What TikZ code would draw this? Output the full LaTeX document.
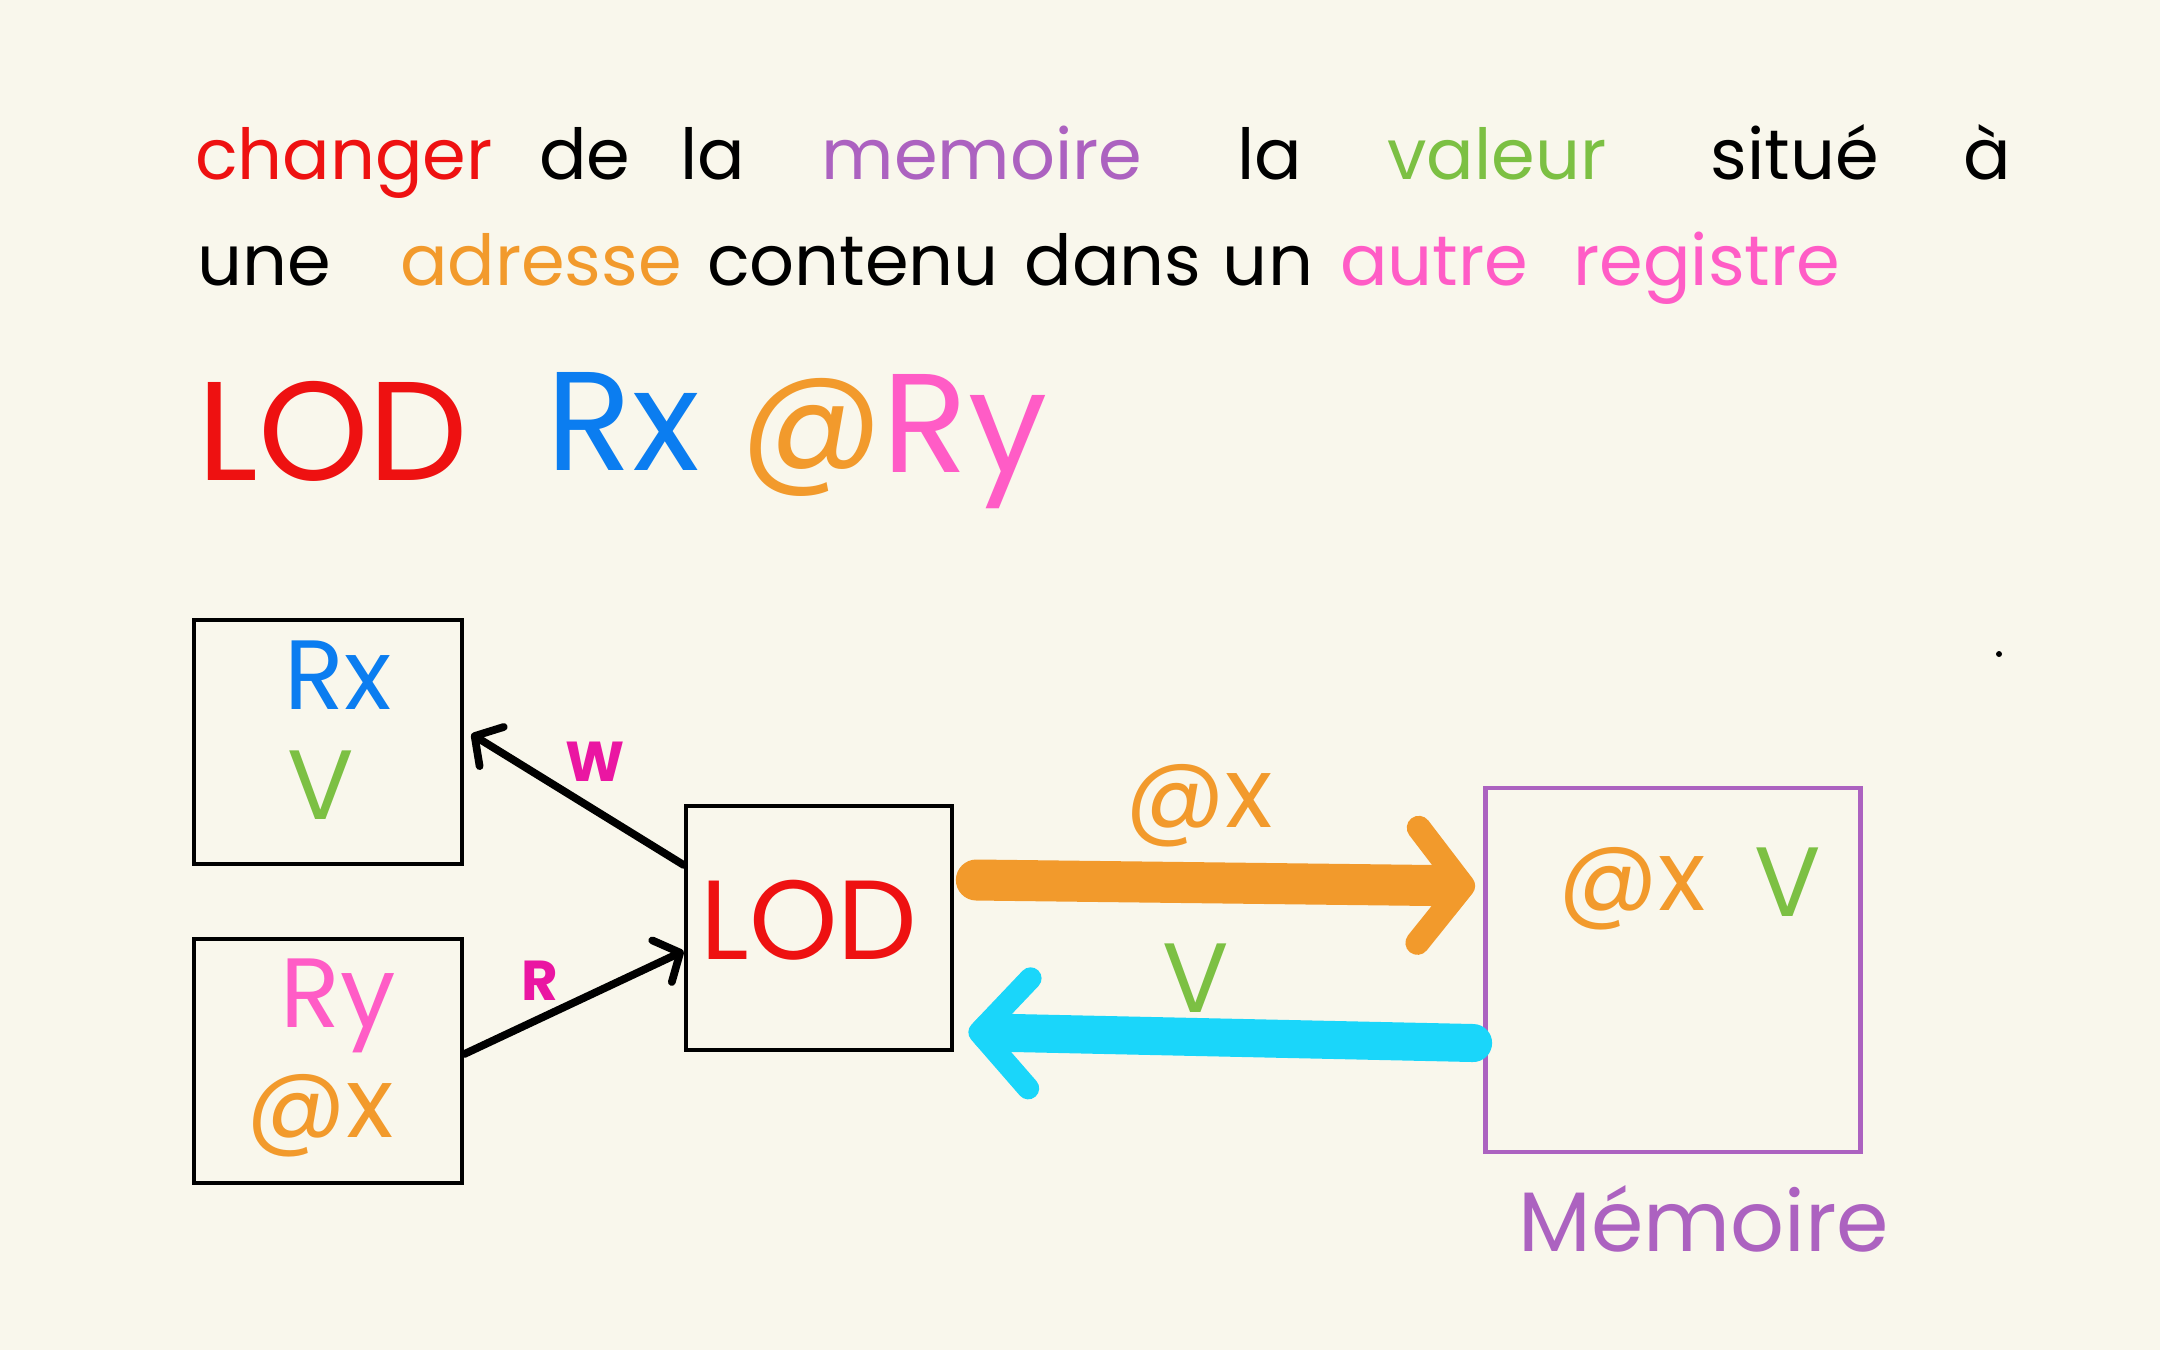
\documentclass[tikz,border=0pt]{standalone}
\usepackage{fontspec}
\setmainfont{Poppins}
\usetikzlibrary{arrows.meta}
\definecolor{bg}{HTML}{F9F7EC}
\definecolor{cred}{HTML}{EE1111}
\definecolor{cpurple}{HTML}{AC62C0}
\definecolor{cgreen}{HTML}{7CC043}
\definecolor{corange}{HTML}{F29A2C}
\definecolor{cblue}{HTML}{0B7DF0}
\definecolor{cpink}{HTML}{FF5CC6}
\definecolor{cmagenta}{HTML}{EA16A2}
\definecolor{ccyan}{HTML}{1AD6FA}
\tikzset{
  title/.style={anchor=base, inner sep=0pt, font=\fontsize{20}{24}\selectfont},
  head/.style={anchor=base, inner sep=0pt, font=\fontsize{40}{44}\selectfont},
  regbox/.style={draw=black, line width=1.3pt, minimum width=2.68cm, minimum height=2.44cm, inner sep=0pt},
  inbox/.style={inner sep=0pt, font=\fontsize{28}{30}\selectfont},
  lbl/.style={inner sep=0pt, font=\bfseries\fontsize{16}{18}\selectfont, text=cmagenta},
  blkarrow/.style={draw=black, line width=2.2pt, line cap=round, -{Straight Barb[length=0.2cm,width=0.46cm,round]}},
}
\begin{document}
\begin{tikzpicture}[x=0.01cm, y=-0.01cm]
\fill[bg] (0,0) rectangle (2160,1350);
\useasboundingbox (0,0) rectangle (2160,1350);

% title line 1
\node[title, text=cred] (w1) at (344,179) {changer};
\node[title] (w2) at (585,179) {de};
\node[title] (w3) at (713,179) {la};
\node[title, text=cpurple] (w4) at (982,179) {memoire};
\node[title] (w5) at (1270,179) {la};
\node[title, text=cgreen] (w6) at (1497,179) {valeur};
\node[title] (w7) at (1795,179) {situé};
\node[title] (w8) at (1987,179) {à};
% title line 2
\node[title] (v1) at (264,285) {une};
\node[title, text=corange] (v2) at (541,285) {adresse};
\node[title] (v3) at (853,285) {contenu};
\node[title] (v4) at (1113,285) {dans};
\node[title] (v5) at (1268,285) {un};
\node[title, text=cpink] (v6) at (1434,285) {autre};
\node[title, text=cpink] (v7) at (1707,285) {registre};

% instruction
\node[head, text=cred] (hlod) at (333,480) {LOD};
\node[head, text=cblue] (hrx) at (623,470) {Rx};
\node[head, text=corange] (hat) at (812,468) {@};
\node[head, text=cpink] (hry) at (965,472) {Ry};

% boxes
\node[regbox] (rx) at (328,742) {};
\node[regbox] (ry) at (328,1061) {};
\node[regbox, minimum width=2.66cm] (lod) at (819,928) {};
\node[draw=cpurple, line width=1.3pt, minimum width=3.75cm, minimum height=3.64cm, inner sep=0pt] (mem) at (1673,970) {};

% box contents
\node[inbox, text=cblue] (rxt) at (338,675) {Rx};
\node[inbox, text=cgreen] (rxv) at (321,785) {V};
\node[inbox, text=cpink] (ryt) at (338,1006) {Ry};
\node[inbox, text=corange] (ryat) at (320,1116) {@x};
\node[inbox, text=cred, font=\fontsize{32}{34}\selectfont] (lodt) at (809,920) {LOD};
\node[inbox, text=corange] (memat) at (1632,889) {@x};
\node[inbox, text=cgreen] (memv) at (1788,882) {V};
\node[inbox, text=cpurple, font=\fontsize{24}{26}\selectfont] (memlbl) at (1704,1219) {Mémoire};

% black arrows
\draw[blkarrow] ([yshift=0.63cm]lod.west) -- ([shift={(7,-8)}]rx.east);
\draw[blkarrow] ([yshift=0.07cm]ry.east) -- ([yshift=-0.23cm]lod.west);
\node[lbl] (lw) at (595,762) {W};
\node[lbl] (lr) at (540,981) {R};

% orange arrow
\draw[corange, line width=0.41cm, line cap=round,
  -{Straight Barb[length=0.45cm,width=1.15cm,line width=0.24cm,round]}]
  ([shift={(22,-48)}]lod.east) -- ([shift={(-8,-84)}]mem.west);
\node[inbox, text=corange] (oat) at (1199,806) {@x};

% cyan arrow
\draw[ccyan, line width=0.38cm, line cap=round,
  -{Straight Barb[length=0.5cm,width=1.1cm,line width=0.22cm,round]}]
  ([shift={(-10,73)}]mem.west) -- ([shift={(14,104)}]lod.east);
\node[inbox, text=cgreen] (cv) at (1196,978) {V};

% stray dot
\fill[black] (1999,654) circle (3);
\end{tikzpicture}
\end{document}
